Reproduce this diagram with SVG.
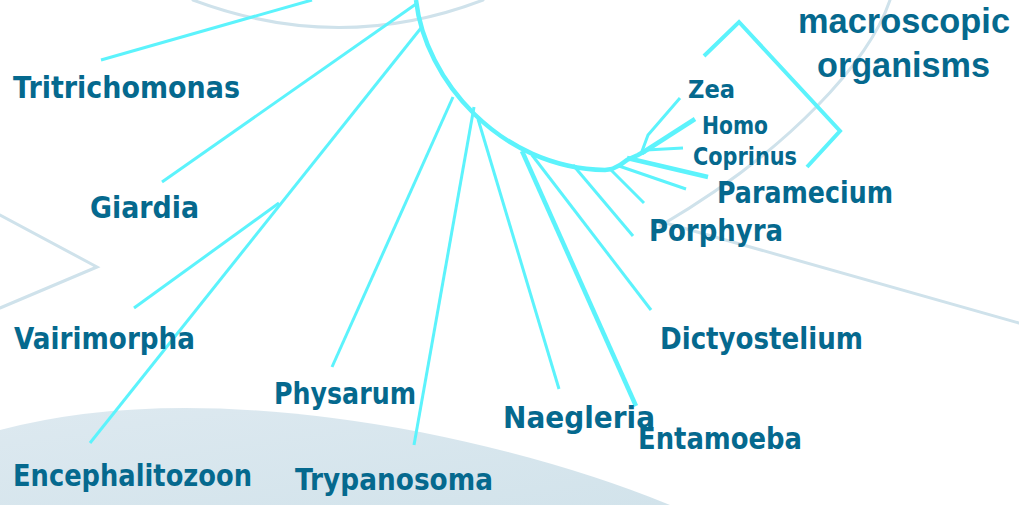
<svg xmlns="http://www.w3.org/2000/svg" width="1019" height="505" viewBox="0 0 1019 505">
<style>
.bg{fill:none;stroke:#cfe2eb;stroke-width:3;stroke-linecap:round}
.br{fill:none;stroke:#5cf3fc;stroke-width:3;stroke-linecap:butt}
.thick{stroke-width:4.5}
.lbl{font-family:"DejaVu Sans","Liberation Sans",sans-serif;font-weight:bold;fill:#05698e;font-size:31px}
.sm{font-size:24px}
.big{font-family:"Liberation Sans","DejaVu Sans",sans-serif;font-size:35px}
</style>
<defs>
<linearGradient id="g" x1="0" y1="0" x2="1" y2="1">
<stop offset="0" stop-color="#dde9f0"/>
<stop offset="1" stop-color="#d2e3eb"/>
</linearGradient>
</defs>
<rect width="1019" height="505" fill="#ffffff"/>
<g id="background">
<path d="M0,430 Q170,385 420,432 Q560,460 670,505 L0,505 Z" fill="url(#g)"/>
<path class="bg" d="M193,0 Q340,55 483,0"/>
<path class="bg" d="M890,0 C870,60 790,150 660,226"/>
<path class="bg" d="M662,222 L1019,323"/>
<path class="bg" d="M0,215 L97,267 L0,308"/>
</g>
<g id="connectors">
<path class="br" style="stroke-width:4.5" d="M416,0 C425,80 500,168 605,170 L612,169 Q620,166 627,160 L638,155 L645,151"/>
<line class="br" x1="101" y1="60" x2="312" y2="0"/>
<line class="br" x1="162" y1="182" x2="416" y2="4"/>
<line class="br" x1="90" y1="443" x2="421" y2="28"/>
<line class="br" x1="134" y1="308" x2="279" y2="203"/>
<line class="br" x1="332" y1="367" x2="453" y2="97"/>
<line class="br" x1="414" y1="445" x2="474" y2="107"/>
<line class="br" x1="559" y1="389" x2="478" y2="119"/>
<line class="br thick" x1="636" y1="406" x2="522" y2="151"/>
<line class="br" x1="651" y1="310" x2="532" y2="155"/>
<line class="br" x1="633" y1="236" x2="573" y2="165"/>
<line class="br" x1="644" y1="203" x2="610" y2="169"/>
<line class="br" x1="686" y1="189" x2="619" y2="166"/>
<line class="br thick" x1="708" y1="177" x2="627" y2="158"/>
<line class="br" x1="683" y1="148" x2="646" y2="150"/>
<line class="br thick" x1="695" y1="119" x2="642" y2="153"/>
<polyline class="br" points="680,98 648,135 641,154"/>
<polyline class="br" style="stroke-width:4" points="704,56 739,22 840,131 807,167"/>
</g>
<g id="tritrichomonas"><text class="lbl" x="13" y="98" textLength="227" lengthAdjust="spacingAndGlyphs">Tritrichomonas</text></g>
<g id="giardia"><text class="lbl" x="90" y="218" textLength="109" lengthAdjust="spacingAndGlyphs">Giardia</text></g>
<g id="vairimorpha"><text class="lbl" x="14" y="349" textLength="181" lengthAdjust="spacingAndGlyphs">Vairimorpha</text></g>
<g id="encephalitozoon"><text class="lbl" x="13" y="486" textLength="239" lengthAdjust="spacingAndGlyphs">Encephalitozoon</text></g>
<g id="physarum"><text class="lbl" x="274" y="404" textLength="142" lengthAdjust="spacingAndGlyphs">Physarum</text></g>
<g id="trypanosoma"><text class="lbl" x="295" y="490" textLength="198" lengthAdjust="spacingAndGlyphs">Trypanosoma</text></g>
<g id="naegleria"><text class="lbl" x="503" y="428" textLength="152" lengthAdjust="spacingAndGlyphs">Naegleria</text></g>
<g id="entamoeba"><text class="lbl" x="638" y="449" textLength="164" lengthAdjust="spacingAndGlyphs">Entamoeba</text></g>
<g id="dictyostelium"><text class="lbl" x="660" y="349" textLength="203" lengthAdjust="spacingAndGlyphs">Dictyostelium</text></g>
<g id="porphyra"><text class="lbl" x="649" y="241" textLength="134" lengthAdjust="spacingAndGlyphs">Porphyra</text></g>
<g id="paramecium"><text class="lbl" x="717" y="203" textLength="176" lengthAdjust="spacingAndGlyphs">Paramecium</text></g>
<g id="coprinus"><text class="lbl sm" x="693" y="165" textLength="104" lengthAdjust="spacingAndGlyphs">Coprinus</text></g>
<g id="homo"><text class="lbl sm" x="702" y="134" textLength="66" lengthAdjust="spacingAndGlyphs">Homo</text></g>
<g id="zea"><text class="lbl sm" x="688" y="98" textLength="47" lengthAdjust="spacingAndGlyphs">Zea</text></g>
<g id="macroscopic-organisms">
<text class="lbl big" x="798" y="33" textLength="212" lengthAdjust="spacingAndGlyphs">macroscopic</text>
<text class="lbl big" x="817" y="77" textLength="173" lengthAdjust="spacingAndGlyphs">organisms</text>
</g>
</svg>
